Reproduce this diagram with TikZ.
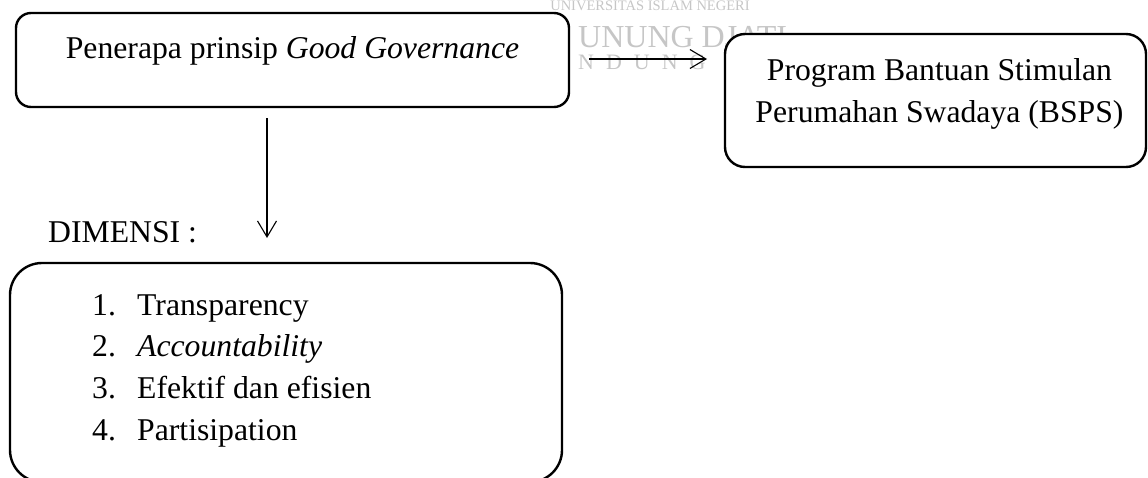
\documentclass[tikz,border=0pt]{standalone}
\usepackage{fontspec}
\setmainfont{Liberation Serif}
\usetikzlibrary{arrows.meta}
\tikzset{
  framebox/.style = {draw, line width=2.4pt, fill=white, inner sep=0pt, outer sep=0pt},
  link/.style = {->, line width=1.1pt},
  watermark/.style = {text=gray!45, inner sep=0pt}
}
\tikzset{>={Straight Barb[length=16pt,width=19pt]}}

\begin{document}
\begin{tikzpicture}[x=1pt,y=-1pt,font=\fontsize{31.7}{42}\selectfont]
  \useasboundingbox (0,0) rectangle (1148,477);
  \clip (0,0) rectangle (1148,477);
  % faint watermark, the parts that show
  \node[watermark,anchor=base,font=\fontsize{14.5}{15}\selectfont] (wmTop) at (650,10) {UNIVERSITAS ISLAM NEGERI};
  \node[watermark,anchor=base west,font=\fontsize{32}{34}\selectfont] (wmMid) at (578,47) {UNUNG DJATI};
  \node[watermark,anchor=base west,font=\fontsize{22}{24}\selectfont] (wmLow) at (578,69) {N\hspace{12pt}D\hspace{12pt}U\hspace{12pt}N\hspace{12pt}G};
  % boxes
  \node[framebox, rounded corners=15pt, minimum width=553pt, minimum height=94pt] (penerapa) at (292.5,60) {};
  \node[framebox, rounded corners=20pt, minimum width=421pt, minimum height=133pt] (program) at (935.5,100.5) {};
  \node[framebox, rounded corners=32pt, minimum width=552pt, minimum height=219pt] (dimensi) at (286,372.5) {};
  % texts
  \node[anchor=base] (penerapaText) at (292.5,58) {Penerapa prinsip \textit{Good Governance}};
  \node[anchor=base, align=center] (programText) at (939.5,122) {Program Bantuan Stimulan\\Perumahan Swadaya (BSPS)};
  \node[anchor=base west, inner sep=0pt] (dimLabel) at (48,242) {DIMENSI :};
  \foreach \num/\dimtext [count=\i from 0] in {1/Transparency, 2/\textit{Accountability}, 3/Efektif dan efisien, 4/Partisipation}
    \node[anchor=base west, inner sep=0pt] (item\num) at (92,315+41.7*\i) {\makebox[45pt][l]{\num.}\dimtext};
  % connectors
  \coordinate (arrowRow) at (0,59);
  \coordinate (arrowCol) at (267,0);
  \draw[link, shorten <=20pt, shorten >=18pt] (penerapa.east |- arrowRow) -- (program.west |- arrowRow);
  \draw[link, shorten <=11pt, shorten >=25pt] (penerapa.south -| arrowCol) -- (dimensi.north -| arrowCol);
\end{tikzpicture}
\end{document}
